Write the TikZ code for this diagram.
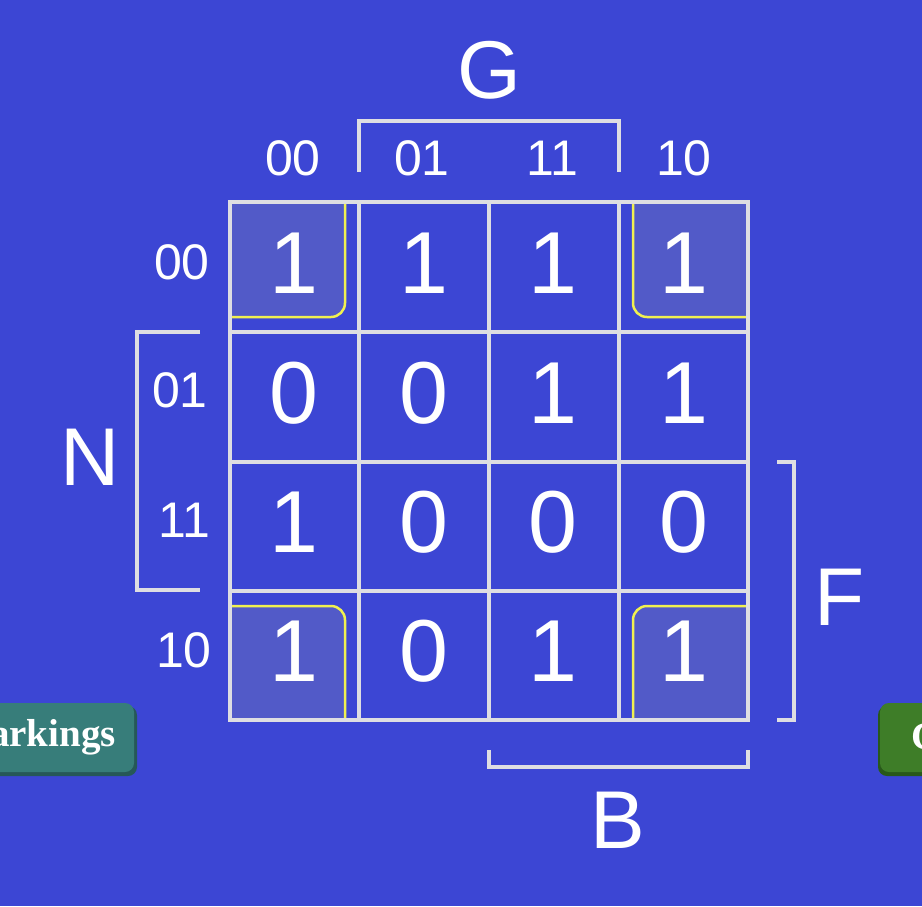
\documentclass[tikz,border=0pt]{standalone}
\usepackage{fontspec}
\setmainfont{Liberation Sans}
\newfontfamily\btnfont{Liberation Serif}
\usetikzlibrary{positioning}
\definecolor{mapblue}{RGB}{60,70,212}
\definecolor{hilite}{RGB}{82,90,200}
\definecolor{gridgray}{RGB}{222,222,226}
\definecolor{loopyellow}{RGB}{240,240,80}
\definecolor{btnteal}{RGB}{55,125,122}
\definecolor{btntealdark}{RGB}{38,88,88}
\definecolor{btngreen}{RGB}{62,125,40}
\definecolor{btngreendark}{RGB}{40,88,26}

\begin{document}
\begin{tikzpicture}[x=1pt,y=-1pt,
    digit/.style={text=white,inner sep=0pt,font=\fontsize{88}{88}\selectfont},
    code/.style={text=white,inner sep=0pt,font=\fontsize{50}{50}\selectfont},
    var/.style={text=white,inner sep=0pt,font=\fontsize{82}{82}\selectfont},
    gridline/.style={draw=gridgray,line width=4pt},
    loopline/.style={draw=loopyellow,line width=2.5pt},
    btntext/.style={text=white,inner sep=0pt,font=\btnfont\bfseries\fontsize{39}{39}\selectfont}]
            \useasboundingbox (0,0) rectangle (922,906);
            \fill[mapblue] (0,0) rectangle (922,906);
            \clip (0,0) rectangle (922,906);
            \begin{scope}
                \clip (230,202) rectangle (359,332);
                \fill[hilite,rounded corners=14pt] (200,170) rectangle (345,317);
                \draw[loopline,rounded corners=14pt] (345,170) -- (345,317) -- (200,317);
            \end{scope}
            \begin{scope}
                \clip (619,202) rectangle (748,332);
                \fill[hilite,rounded corners=14pt] (633,170) rectangle (780,317);
                \draw[loopline,rounded corners=14pt] (633,170) -- (633,317) -- (780,317);
            \end{scope}
            \begin{scope}
                \clip (230,591) rectangle (359,720);
                \fill[hilite,rounded corners=14pt] (200,606) rectangle (345,750);
                \draw[loopline,rounded corners=14pt] (200,606) -- (345,606) -- (345,750);
            \end{scope}
            \begin{scope}
                \clip (619,591) rectangle (748,720);
                \fill[hilite,rounded corners=14pt] (633,606) rectangle (780,750);
                \draw[loopline,rounded corners=14pt] (780,606) -- (633,606) -- (633,750);
            \end{scope}
            \draw[gridline] (230,202) rectangle (748,720);
            \draw[gridline] (359,202) -- (359,720);
            \draw[gridline] (489,202) -- (489,720);
            \draw[gridline] (619,202) -- (619,720);
            \draw[gridline] (230,332) -- (748,332);
            \draw[gridline] (230,462) -- (748,462);
            \draw[gridline] (230,591) -- (748,591);
            \draw[gridline] (359,172) -- (359,121) -- (619,121) -- (619,172);
            \draw[gridline] (200,332) -- (137,332) -- (137,590) -- (200,590);
            \draw[gridline] (777,462) -- (794,462) -- (794,720) -- (777,720);
            \draw[gridline] (489,750) -- (489,767) -- (748,767) -- (748,750);
            \node[var] (G) at (489,70) {G};
            \node[var] (N) at (90,457) {N};
            \node[var] (F) at (840,597) {F};
            \node[var] (B) at (618,820) {B};
            \node[code] (col00) at (293,158) {00};
            \node[code] (col01) at (422,158) {01};
            \node[code] (col11) at (552,158) {11};
            \node[code] (col10) at (684,158) {10};
            \node[code] (row00) at (182,262) {00};
            \node[code] (row01) at (180,390) {01};
            \node[code] (row11) at (184,520) {11};
            \node[code] (row10) at (184,650) {10};
            \node[digit] (m0000) at (294,263) {1};
            \node[digit] (m0001) at (424,263) {1};
            \node[digit] (m0011) at (553,263) {1};
            \node[digit] (m0010) at (684,263) {1};
            \node[digit] (m0100) at (294,393) {0};
            \node[digit] (m0101) at (424,393) {0};
            \node[digit] (m0111) at (553,393) {1};
            \node[digit] (m0110) at (684,393) {1};
            \node[digit] (m1100) at (294,522) {1};
            \node[digit] (m1101) at (424,522) {0};
            \node[digit] (m1111) at (553,522) {0};
            \node[digit] (m1110) at (684,522) {0};
            \node[digit] (m1000) at (294,651) {1};
            \node[digit] (m1001) at (424,651) {0};
            \node[digit] (m1011) at (553,651) {1};
            \node[digit] (m1010) at (684,651) {1};
            \fill[btntealdark,rounded corners=9pt] (-20,706) rectangle (137,776);
            \fill[btnteal,rounded corners=9pt] (-20,703) rectangle (134,772);
            \node[btntext,anchor=east] (marks) at (116,737) {arkings};
            \fill[btngreendark,rounded corners=9pt] (878,706) rectangle (950,776);
            \fill[btngreen,rounded corners=9pt] (880,703) rectangle (950,772);
            \node[btntext,anchor=west] (check) at (911,737) {C};
        \end{tikzpicture}
\end{document}
